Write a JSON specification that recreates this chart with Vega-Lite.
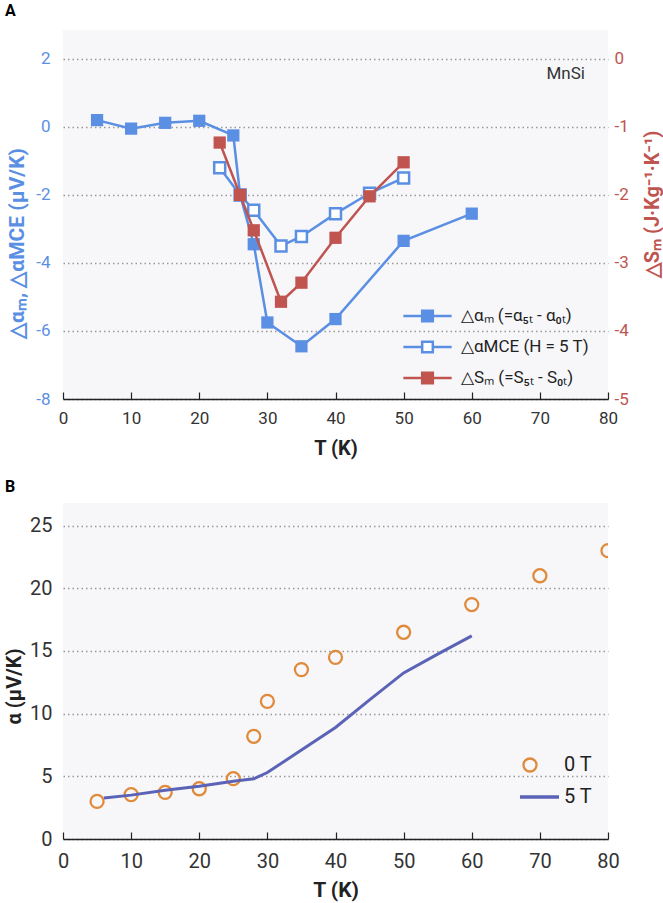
{
  "$schema": "https://vega.github.io/schema/vega-lite/v6.json",
  "autosize": {"type": "none"},
  "padding": {"left": 63, "top": 30, "right": 600, "bottom": 873},
  "spacing": 104,
  "bounds": "flush",
  "config": {
    "font": "Roboto",
    "view": {"fill": "#f7f7fa", "stroke": null},
    "axis": {"labelFont": "Roboto", "titleFont": "Roboto"},
    "legend": {"labelFont": "Roboto"}
  },
  "datasets": {
    "top": [
      {"T": 5, "v": 0.2, "k": "am", "s": "△αₘ (=α₅ₜ - α₀ₜ)"},
      {"T": 10, "v": -0.05, "k": "am", "s": "△αₘ (=α₅ₜ - α₀ₜ)"},
      {"T": 15, "v": 0.12, "k": "am", "s": "△αₘ (=α₅ₜ - α₀ₜ)"},
      {"T": 20, "v": 0.18, "k": "am", "s": "△αₘ (=α₅ₜ - α₀ₜ)"},
      {"T": 25, "v": -0.25, "k": "am", "s": "△αₘ (=α₅ₜ - α₀ₜ)"},
      {"T": 26, "v": -2.0, "k": "am", "s": "△αₘ (=α₅ₜ - α₀ₜ)"},
      {"T": 28, "v": -3.45, "k": "am", "s": "△αₘ (=α₅ₜ - α₀ₜ)"},
      {"T": 30, "v": -5.75, "k": "am", "s": "△αₘ (=α₅ₜ - α₀ₜ)"},
      {"T": 35, "v": -6.45, "k": "am", "s": "△αₘ (=α₅ₜ - α₀ₜ)"},
      {"T": 40, "v": -5.65, "k": "am", "s": "△αₘ (=α₅ₜ - α₀ₜ)"},
      {"T": 50, "v": -3.35, "k": "am", "s": "△αₘ (=α₅ₜ - α₀ₜ)"},
      {"T": 60, "v": -2.55, "k": "am", "s": "△αₘ (=α₅ₜ - α₀ₜ)"},
      {"T": 23, "v": -1.2, "k": "mce", "s": "△αMCE (H = 5 T)"},
      {"T": 26, "v": -2.0, "k": "mce", "s": "△αMCE (H = 5 T)"},
      {"T": 28, "v": -2.45, "k": "mce", "s": "△αMCE (H = 5 T)"},
      {"T": 32, "v": -3.5, "k": "mce", "s": "△αMCE (H = 5 T)"},
      {"T": 35, "v": -3.22, "k": "mce", "s": "△αMCE (H = 5 T)"},
      {"T": 40, "v": -2.55, "k": "mce", "s": "△αMCE (H = 5 T)"},
      {"T": 45, "v": -1.95, "k": "mce", "s": "△αMCE (H = 5 T)"},
      {"T": 50, "v": -1.5, "k": "mce", "s": "△αMCE (H = 5 T)"},
      {"T": 23, "v": -1.23, "k": "sm", "s": "△Sₘ (=S₅ₜ - S₀ₜ)"},
      {"T": 26, "v": -2.0, "k": "sm", "s": "△Sₘ (=S₅ₜ - S₀ₜ)"},
      {"T": 28, "v": -2.52, "k": "sm", "s": "△Sₘ (=S₅ₜ - S₀ₜ)"},
      {"T": 32, "v": -3.57, "k": "sm", "s": "△Sₘ (=S₅ₜ - S₀ₜ)"},
      {"T": 35, "v": -3.29, "k": "sm", "s": "△Sₘ (=S₅ₜ - S₀ₜ)"},
      {"T": 40, "v": -2.63, "k": "sm", "s": "△Sₘ (=S₅ₜ - S₀ₜ)"},
      {"T": 45, "v": -2.02, "k": "sm", "s": "△Sₘ (=S₅ₜ - S₀ₜ)"},
      {"T": 50, "v": -1.52, "k": "sm", "s": "△Sₘ (=S₅ₜ - S₀ₜ)"}
    ],
    "bottom": [
      {"T": 5, "a": 3.0, "s": "0 T"},
      {"T": 10, "a": 3.54, "s": "0 T"},
      {"T": 15, "a": 3.72, "s": "0 T"},
      {"T": 20, "a": 4.01, "s": "0 T"},
      {"T": 25, "a": 4.81, "s": "0 T"},
      {"T": 28, "a": 8.19, "s": "0 T"},
      {"T": 30, "a": 10.98, "s": "0 T"},
      {"T": 35, "a": 13.51, "s": "0 T"},
      {"T": 40, "a": 14.49, "s": "0 T"},
      {"T": 50, "a": 16.49, "s": "0 T"},
      {"T": 60, "a": 18.7, "s": "0 T"},
      {"T": 70, "a": 21.0, "s": "0 T"},
      {"T": 80, "a": 23.0, "s": "0 T"},
      {"T": 6, "a": 3.27, "s": "5 T"},
      {"T": 10, "a": 3.5, "s": "5 T"},
      {"T": 15, "a": 3.88, "s": "5 T"},
      {"T": 20, "a": 4.2, "s": "5 T"},
      {"T": 25, "a": 4.6, "s": "5 T"},
      {"T": 28, "a": 4.8, "s": "5 T"},
      {"T": 30, "a": 5.3, "s": "5 T"},
      {"T": 35, "a": 7.1, "s": "5 T"},
      {"T": 40, "a": 8.9, "s": "5 T"},
      {"T": 45, "a": 11.1, "s": "5 T"},
      {"T": 50, "a": 13.25, "s": "5 T"},
      {"T": 55, "a": 14.75, "s": "5 T"},
      {"T": 60, "a": 16.2, "s": "5 T"}
    ]
  },
  "resolve": {"scale": {"color": "independent"}},
  "vconcat": [
    {
      "width": 545,
      "height": 369,
      "title": {"text": "A", "anchor": "start", "frame": "group", "dx": -58, "offset": 11, "fontSize": 16, "fontWeight": "bold", "color": "#000", "font": "Roboto"},
      "resolve": {"scale": {"y": "independent"}},
      "layer": [
        {
          "layer": [
            {
              "data": {"name": "top"},
              "transform": [{"filter": "datum.k !== 'sm'"}],
              "mark": {"type": "line", "strokeWidth": 2.5},
              "encoding": {
                "x": {"field": "T", "type": "quantitative", "scale": {"domain": [0, 80], "nice": false},
                  "axis": {"values": [0, 10, 20, 30, 40, 50, 60, 70, 80], "labelFlush": false, "grid": false, "tickSize": -7, "tickColor": "#222", "tickWidth": 1.2, "domainColor": "#222", "domainWidth": 1.5, "labelPadding": 18, "labelFontSize": 17, "labelColor": "#333", "title": "T (K)", "titleFontSize": 20, "titleFontWeight": "bold", "titleColor": "#222", "titleY": 49, "titleBaseline": "middle"}},
                "y": {"field": "v", "type": "quantitative", "scale": {"domain": [-8, 2.85], "nice": false, "zero": false},
                  "axis": {"orient": "left", "values": [-8, -6, -4, -2, 0, 2], "labelFlush": false, "labelExpr": "'' + datum.value", "grid": true, "gridDash": [1.5, 3], "gridColor": "#999", "gridWidth": 1.3, "domain": false, "ticks": false, "labelPadding": 13, "labelFontSize": 17, "labelColor": "#5b8fe3", "title": "△αₘ, △αMCE (μV/K)", "titleColor": "#5b8fe3", "titleFontSize": 21, "titleFontWeight": "bold", "titleAngle": 270, "titleX": -46, "titleY": 213, "titleBaseline": "middle", "titleAlign": "center"}},
                "color": {"field": "s", "type": "nominal",
                  "scale": {"domain": ["△αₘ (=α₅ₜ - α₀ₜ)", "△αMCE (H = 5 T)", "△Sₘ (=S₅ₜ - S₀ₜ)"], "range": ["#5b8fe3", "#5b8fe3", "#c0544f"]},
                  "legend": {"orient": "none", "legendX": 339, "legendY": 272, "title": null, "padding": 0, "clipHeight": 28,
                    "symbolType": "M-1,0H-0.22M0.22,0H1M-0.22,-0.22H0.22V0.22H-0.22Z", "symbolSize": 2333, "symbolStrokeWidth": 2.5,
                    "labelFontSize": 17, "labelColor": "#222", "labelOffset": 8, "labelLimit": 300, "rowPadding": 3,
                    "encode": {"symbols": {"update": {"fill": {"signal": "datum.index === 1 ? 'white' : (datum.index === 2 ? '#c0544f' : '#5b8fe3')"}, "fillOpacity": {"value": 1}}}}}}
              }
            },
            {
              "data": {"name": "top"},
              "transform": [{"filter": "datum.k === 'am'"}],
              "mark": {"type": "point", "shape": "square", "filled": true, "size": 150, "color": "#5b8fe3", "opacity": 1},
              "encoding": {"x": {"field": "T", "type": "quantitative"}, "y": {"field": "v", "type": "quantitative"}}
            },
            {
              "data": {"name": "top"},
              "transform": [{"filter": "datum.k === 'mce'"}],
              "mark": {"type": "point", "shape": "square", "filled": true, "size": 120, "fill": "white", "stroke": "#5b8fe3", "strokeWidth": 2.5, "opacity": 1},
              "encoding": {"x": {"field": "T", "type": "quantitative"}, "y": {"field": "v", "type": "quantitative"}}
            },
            {
              "data": {"values": [{"T": 73.8, "v": 1.55, "t": "MnSi"}]},
              "mark": {"type": "text", "fontSize": 17, "color": "#333", "font": "Roboto"},
              "encoding": {"x": {"field": "T", "type": "quantitative"}, "y": {"field": "v", "type": "quantitative"}, "text": {"field": "t"}}
            }
          ]
        },
        {
          "layer": [
            {
              "data": {"name": "top"},
              "transform": [{"filter": "datum.k === 'sm'"}],
              "mark": {"type": "line", "strokeWidth": 2.5},
              "encoding": {
                "x": {"field": "T", "type": "quantitative"},
                "y": {"field": "v", "type": "quantitative", "scale": {"domain": [-5, 0.425], "nice": false, "zero": false},
                  "axis": {"orient": "right", "values": [-5, -4, -3, -2, -1, 0], "labelFlush": false, "labelExpr": "'' + datum.value", "grid": false, "domain": false, "ticks": false, "labelPadding": 6, "labelFontSize": 17, "labelColor": "#c0544f", "title": "△Sₘ (J·Kg⁻¹·K⁻¹)", "titleColor": "#c0544f", "titleFontSize": 20, "titleFontWeight": "bold", "titleAngle": 270, "titleX": 44, "titleY": 174, "titleBaseline": "middle", "titleAlign": "center"}},
                "color": {"field": "s", "type": "nominal"}
              }
            },
            {
              "data": {"name": "top"},
              "transform": [{"filter": "datum.k === 'sm'"}],
              "mark": {"type": "point", "shape": "square", "filled": true, "size": 150, "color": "#c0544f", "opacity": 1},
              "encoding": {"x": {"field": "T", "type": "quantitative"}, "y": {"field": "v", "type": "quantitative"}}
            }
          ]
        }
      ]
    },
    {
      "width": 545,
      "height": 336,
      "title": {"text": "B", "anchor": "start", "frame": "group", "dx": -58, "offset": 8, "fontSize": 16, "fontWeight": "bold", "color": "#000", "font": "Roboto"},
      "data": {"name": "bottom"},
      "encoding": {
        "x": {"field": "T", "type": "quantitative", "scale": {"domain": [0, 80], "nice": false},
          "axis": {"values": [0, 10, 20, 30, 40, 50, 60, 70, 80], "labelFlush": false, "grid": false, "tickSize": -7, "tickColor": "#222", "tickWidth": 1.2, "domainColor": "#222", "domainWidth": 1.5, "labelPadding": 19, "labelFontSize": 20, "labelColor": "#333", "title": "T (K)", "titleFontSize": 21, "titleFontWeight": "bold", "titleColor": "#222", "titleY": 51, "titleBaseline": "middle"}},
        "y": {"field": "a", "type": "quantitative", "scale": {"domain": [0, 26.8], "nice": false},
          "axis": {"values": [0, 5, 10, 15, 20, 25], "labelFlush": false, "grid": true, "gridDash": [1.5, 3], "gridColor": "#999", "gridWidth": 1.3, "domain": false, "ticks": false, "labelPadding": 11, "labelFontSize": 20, "labelColor": "#333", "title": "α (μV/K)", "titleColor": "#222", "titleFontSize": 20, "titleFontWeight": "bold", "titleAngle": 270, "titleX": -49, "titleY": 183, "titleBaseline": "middle", "titleAlign": "center"}},
        "color": {"field": "s", "type": "nominal", "scale": {"domain": ["0 T", "5 T"], "range": ["#e08a3c", "#5a63b5"]},
          "legend": {"orient": "none", "legendX": 457, "legendY": 248, "title": null, "padding": 0, "clipHeight": 28,
            "symbolSize": 3364, "labelFontSize": 20, "labelColor": "#222", "labelOffset": 24, "rowPadding": 4,
            "encode": {"symbols": {"update": {
              "shape": {"signal": "datum.index === 0 ? 'circle' : 'stroke'"},
              "size": {"signal": "datum.index === 0 ? 170 : 3364"},
              "fill": {"value": "transparent"},
              "stroke": {"signal": "datum.index === 0 ? '#e08a3c' : '#5a63b5'"},
              "strokeWidth": {"signal": "datum.index === 0 ? 2.3 : 3.5"}}}}}}
      },
      "layer": [
        {
          "transform": [{"filter": "datum.s === '0 T'"}],
          "mark": {"type": "point", "shape": "circle", "filled": false, "size": 170, "strokeWidth": 2.3, "opacity": 1, "clip": true}
        },
        {
          "transform": [{"filter": "datum.s === '5 T'"}],
          "mark": {"type": "line", "strokeWidth": 3}
        }
      ]
    }
  ]
}
